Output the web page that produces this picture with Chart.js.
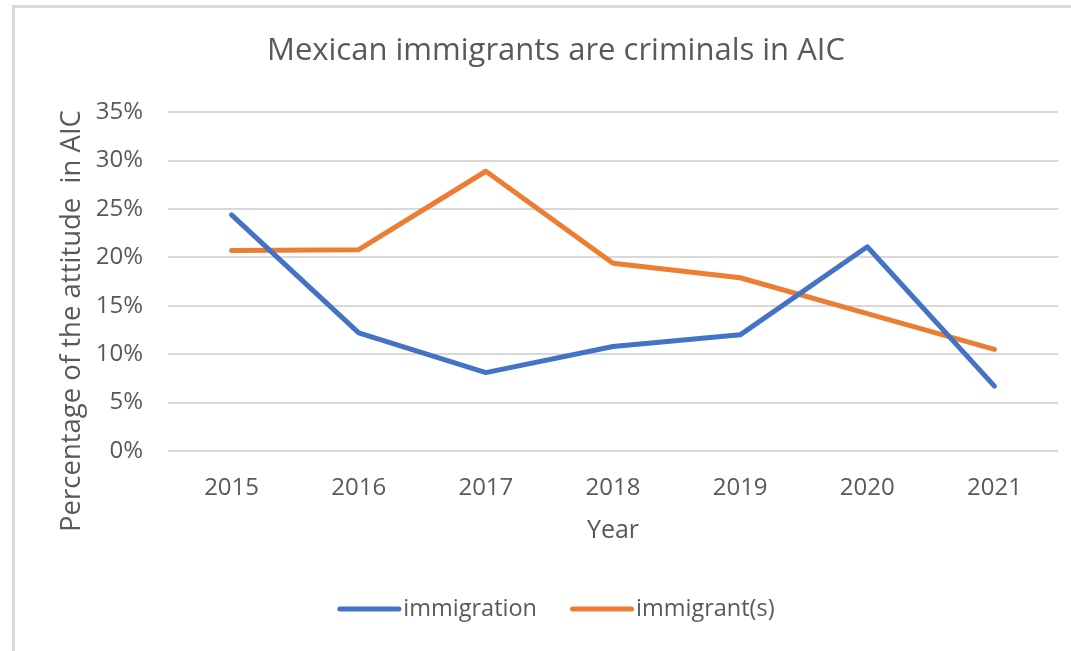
<!DOCTYPE html>
<html>
<head>
<meta charset="utf-8">
<script src="https://cdn.jsdelivr.net/npm/chart.js@4"></script>
<style>
  html, body { margin: 0; padding: 0; background: #fff; }
  #wrap { position: relative; width: 1071px; height: 651px; overflow: hidden; }
  #frame {
    position: absolute; left: 12px; top: 5px; right: -10px; bottom: -10px;
    border-top: 3px solid #d9d9d9; border-left: 3px solid #d9d9d9;
  }
  #chart { position: absolute; left: 0; top: 0; }
</style>
</head>
<body>
<div id="wrap">
  <div id="frame"></div>
  <canvas id="chart" width="1071" height="651"></canvas>
</div>
<script>
var years = ['2015', '2016', '2017', '2018', '2019', '2020', '2021'];
var immigration = [24.4, 12.2, 8.1, 10.8, 12.0, 21.1, 6.7];
var immigrants = [20.7, 20.8, 28.9, 19.4, 17.9, 14.2, 10.5];
var yTicks = [0, 5, 10, 15, 20, 25, 30, 35];

var textGray = '#595959';
var gridGray = '#d9d9d9';
var fontFamily = 'Open Sans';
var yTitle = 'Percentage of the attitude  in AIC';

// Excel-style extras: the y axis title sits a bit below the plot centre,
// and the legend puts the text right against its line sample.
var excelBits = {
  id: 'excelBits',
  afterDraw: function (chart) {
    var ctx = chart.ctx;
    ctx.save();
    ctx.fillStyle = textGray;
    ctx.font = '27.5px "' + fontFamily + '"';
    ctx.textAlign = 'center';
    ctx.textBaseline = 'middle';
    ctx.translate(72, 321);
    ctx.rotate(-Math.PI / 2);
    ctx.fillText(yTitle, 0, 0);
    ctx.restore();

    ctx.save();
    ctx.font = '23.5px "' + fontFamily + '"';
    ctx.textBaseline = 'middle';
    var sample = 64, gap = 2, spacing = 33, y = 609;
    var sets = chart.data.datasets;
    var total = 0;
    sets.forEach(function (ds, i) {
      total += sample + gap + ctx.measureText(ds.label).width;
      if (i > 0) total += spacing;
    });
    var x = 556 - total / 2;
    sets.forEach(function (ds) {
      ctx.strokeStyle = ds.borderColor;
      ctx.lineWidth = 5;
      ctx.lineCap = 'round';
      ctx.beginPath();
      ctx.moveTo(x + 2.5, y);
      ctx.lineTo(x + sample - 2.5, y);
      ctx.stroke();
      x += sample + gap;
      ctx.fillStyle = textGray;
      ctx.fillText(ds.label, x, y);
      x += ctx.measureText(ds.label).width + spacing;
    });
    ctx.restore();
  },
};

var el = document.getElementById('chart');
new Chart(el, {
  type: 'line',
  data: {
    labels: years,
    datasets: [
      {
        label: 'immigration',
        data: immigration,
        borderColor: '#4472c4',
        backgroundColor: '#4472c4',
        borderWidth: 5,
        pointRadius: 0,
        borderCapStyle: 'round',
        borderJoinStyle: 'round',
        tension: 0,
      },
      {
        label: 'immigrant(s)',
        data: immigrants,
        borderColor: '#ed7d31',
        backgroundColor: '#ed7d31',
        borderWidth: 5,
        pointRadius: 0,
        borderCapStyle: 'round',
        borderJoinStyle: 'round',
        tension: 0,
      },
    ],
  },
  plugins: [excelBits],
  options: {
    responsive: false,
    animation: false,
    layout: { padding: { left: 54, right: 13, top: 0, bottom: 63.5 } },
    plugins: {
      title: {
        display: true,
        text: 'Mexican immigrants are criminals in AIC',
        color: textGray,
        font: { family: fontFamily, size: 31, weight: 'normal' },
        padding: { top: 33, bottom: 42 },
      },
      legend: { display: false },
      tooltip: { enabled: false },
    },
    scales: {
      x: {
        offset: true,
        afterFit: function (scale) { scale.height = 136.5; },
        grid: { display: false, drawTicks: false },
        border: { display: false },
        ticks: {
          color: textGray,
          font: { family: fontFamily, size: 24 },
          padding: 23,
        },
        title: {
          display: true,
          text: 'Year',
          color: textGray,
          font: { family: fontFamily, size: 25 },
          padding: { top: 10, bottom: 42 },
        },
      },
      y: {
        min: 0,
        max: 35,
        afterFit: function (scale) { scale.width = 114; },
        afterBuildTicks: function (scale) {
          scale.ticks = yTicks.map(function (v) { return { value: v }; });
        },
        grid: { color: gridGray, lineWidth: 2, drawTicks: false },
        border: { display: false },
        ticks: {
          color: textGray,
          font: { family: fontFamily, size: 24 },
          padding: 25,
          callback: function (v) { return v + '%'; },
        },
      },
    },
  },
});
</script>
</body>
</html>
